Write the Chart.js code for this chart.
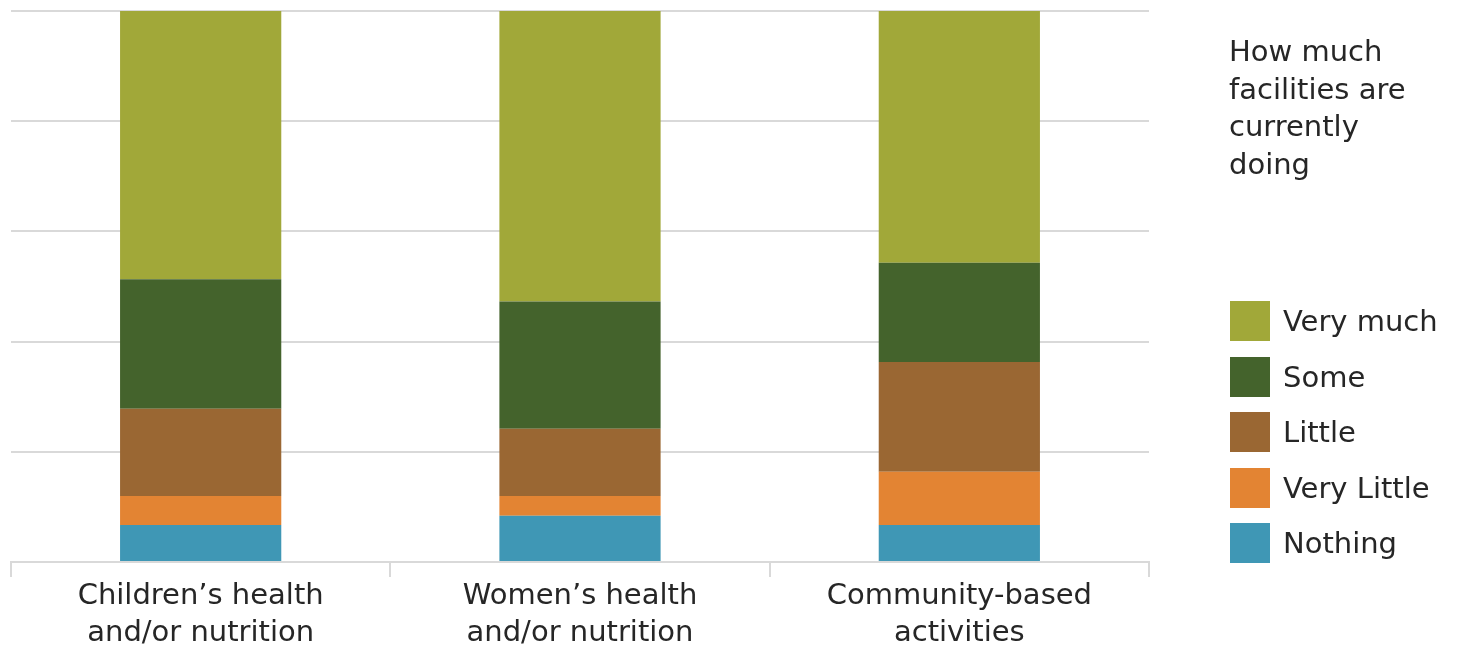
<!DOCTYPE html>
<html>
<head>
<meta charset="utf-8">
<script src="https://cdn.jsdelivr.net/npm/chart.js@4.4.1/dist/chart.umd.min.js"></script>
<style>
  html, body { margin: 0; padding: 0; background: #fff; }
  body { width: 1461px; height: 646px; position: relative; overflow: hidden;
         font-family: 'DejaVu Sans', sans-serif; color: #262626; }
  #wrap { position: absolute; left: 0; top: 0; width: 1461px; height: 646px; }
  #legend-title { position: absolute; left: 1229px; top: 33px; font-size: 29px; line-height: 37.5px; }
  #legend { position: absolute; left: 1230px; top: 301px; }
  .item { display: flex; align-items: center; height: 40px; margin-bottom: 15.5px; font-size: 29px; }
  .swatch { width: 40px; height: 40px; margin-right: 13px; flex: none; }
</style>
</head>
<body>
<div id="wrap"><canvas id="chart"></canvas></div>
<div id="legend-title">How much<br>facilities are<br>currently<br>doing</div>
<div id="legend"></div>
<script>
(function () {
  'use strict';

  // categories (two-line axis labels)
  const categories = [
    ['Children\u2019s health', 'and/or nutrition'],
    ['Women\u2019s health', 'and/or nutrition'],
    ['Community-based', 'activities']
  ];

  // share of facilities, % (bottom of stack first)
  const nothing    = [6.7, 8.4, 6.7];
  const veryLittle = [5.3, 3.6, 9.7];
  const little     = [15.8, 12.2, 19.9];
  const some       = [23.5, 23.1, 18.0];
  const veryMuch   = [48.7, 52.7, 45.7];

  const yTicks = [0, 20, 40, 60, 80, 100];

  const series = [
    { label: 'Nothing',     data: nothing,    color: '#3f97b5' },
    { label: 'Very Little', data: veryLittle, color: '#e38433' },
    { label: 'Little',      data: little,     color: '#9a6733' },
    { label: 'Some',        data: some,       color: '#44632c' },
    { label: 'Very much',   data: veryMuch,   color: '#a1a839' }
  ];

  const FONT = "'DejaVu Sans', sans-serif";
  const GRID = '#d9d9d9';

  const chart = new Chart(document.getElementById('chart'), {
    type: 'bar',
    data: {
      labels: categories,
      datasets: series.map((s) => ({
        label: s.label,
        data: s.data,
        backgroundColor: s.color,
        borderWidth: 0,
        categoryPercentage: 1,
        barPercentage: 0.425
      }))
    },
    options: {
      responsive: true,
      maintainAspectRatio: false,
      animation: false,
      layout: { padding: { left: 11, right: 312, top: 11, bottom: 0 } },
      plugins: {
        legend: { display: false },
        tooltip: { enabled: false }
      },
      scales: {
        x: {
          stacked: true,
          grid: {
            offset: true,
            drawOnChartArea: false,
            drawTicks: true,
            tickLength: 15,
            color: GRID,
            lineWidth: 2
          },
          border: { display: true, color: GRID, width: 2 },
          ticks: {
            color: '#262626',
            padding: 1,
            font: { family: FONT, size: 29, lineHeight: 1.28 }
          },
          afterFit: (scale) => { scale.height = 84; }
        },
        y: {
          stacked: true,
          min: yTicks[0],
          max: yTicks[yTicks.length - 1],
          afterBuildTicks: (scale) => { scale.ticks = yTicks.map((v) => ({ value: v })); },
          grid: { color: GRID, lineWidth: 2, drawTicks: false },
          border: { display: false },
          ticks: { display: false },
          afterFit: (scale) => { scale.width = 0; }
        }
      }
    }
  });

  /* ── Legend (top of stack first) ─────────────── */

  const legendEl = document.getElementById('legend');
  chart.data.datasets.slice().reverse().forEach((ds) => {
    const row = document.createElement('div');
    row.className = 'item';
    row.innerHTML = `<span class="swatch" style="background:${ds.backgroundColor}"></span><span>${ds.label}</span>`;
    legendEl.appendChild(row);
  });
})();
</script>
</body>
</html>
